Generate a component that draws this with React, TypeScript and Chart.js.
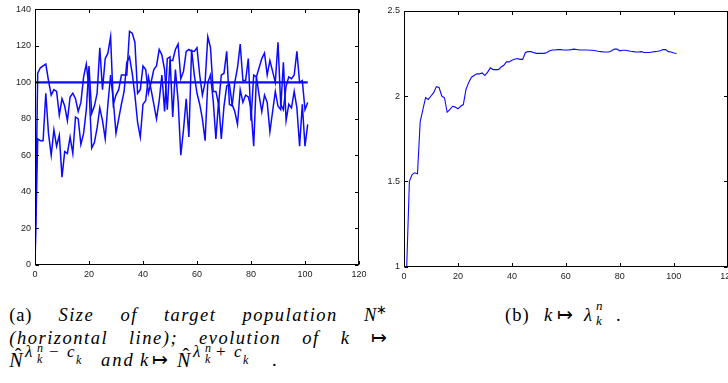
import React, { useEffect, useRef } from "react";
import { Chart, registerables } from "chart.js";

Chart.register(...registerables);

// ---------- data ----------
// left panel: N-hat^(lambda + c) and N-hat^(lambda - c), k = 0..101
const SERIES_PLUS = [
  0, 105, 108, 109, 110, 101, 93, 96, 95, 82,
  91, 87, 79, 92, 94, 91, 84, 89, 103, 110,
  97, 64, 67, 75, 86, 79, 69, 88, 104, 90,
  72, 80, 88, 95, 111, 114, 105, 93, 78, 70,
  88, 90, 103, 96, 88, 80, 90, 104, 84, 113,
  114, 81, 107, 90, 60, 74, 91, 70, 118, 104,
  94, 88, 80, 68, 100, 104, 90, 69, 90, 69,
  87, 98, 99, 88, 84, 77, 96, 89, 93, 92,
  86, 65, 103, 108, 113, 116, 104, 112, 106, 100,
  122, 88, 85, 98, 103, 102, 104, 117, 100, 101,
  85, 89,
];
const SERIES_MINUS = [
  0, 69, 68, 68, 94, 72, 60, 74, 65, 71,
  48, 62, 61, 70, 61, 81, 80, 66, 72, 85,
  109, 83, 87, 94, 119, 96, 113, 116, 125, 88,
  93, 96, 104, 104, 104, 128, 127, 122, 94, 96,
  109, 107, 94, 100, 107, 109, 118, 115, 107, 85,
  112, 112, 118, 121, 102, 106, 117, 118, 117, 117,
  119, 104, 93, 100, 125, 119, 95, 95, 88, 104,
  105, 117, 88, 87, 100, 108, 121, 101, 101, 113,
  79, 104, 103, 93, 84, 93, 89, 73, 84, 95,
  87, 85, 111, 79, 88, 86, 95, 86, 65, 88,
  65, 77,
];
const TARGET_K = [0, 101];
const TARGET_N = [100, 100];

// right panel: lambda_k^n, k = 0..101
const LAMBDA = [
  1.0, 1.0, 1.5, 1.54, 1.55, 1.545, 1.85, 1.92, 1.99, 1.98,
  2.0, 2.02, 2.055, 2.05, 2.0, 1.99, 1.905, 1.92, 1.94, 1.935,
  1.925, 1.94, 1.95, 2.04, 2.08, 2.11, 2.12, 2.13, 2.13, 2.135,
  2.12, 2.14, 2.165, 2.155, 2.155, 2.155, 2.17, 2.18, 2.2, 2.2,
  2.21, 2.215, 2.22, 2.215, 2.215, 2.255, 2.26, 2.26, 2.255, 2.25,
  2.25, 2.25, 2.25, 2.255, 2.265, 2.27, 2.27, 2.272, 2.272, 2.27,
  2.27, 2.27, 2.272, 2.275, 2.273, 2.27, 2.27, 2.27, 2.27, 2.268,
  2.268, 2.265, 2.262, 2.26, 2.258, 2.258, 2.258, 2.265, 2.275, 2.275,
  2.265, 2.268, 2.268, 2.265, 2.262, 2.26, 2.258, 2.258, 2.26, 2.255,
  2.255, 2.255, 2.258, 2.26, 2.262, 2.265, 2.272, 2.272, 2.26, 2.258,
  2.252, 2.25,
];

const X_TICKS = [0, 20, 40, 60, 80, 100, 120];
const Y_TICKS_A = [0, 20, 40, 60, 80, 100, 120, 140];
const Y_TICKS_B = [1, 1.5, 2, 2.5];

// ---------- helpers ----------
const toXY = (arr: number[]) => arr.map((y, k) => ({ x: k, y }));

const boxPlugin = {
  id: "matlabBox",
  afterDraw(chart: any) {
    const { ctx, chartArea: a, scales } = chart;
    const L = Math.round(a.left) + 0.5;
    const R = Math.round(a.right) - 0.5;
    const T = Math.round(a.top) + 0.5;
    const B = Math.round(a.bottom) - 0.5;
    const tl = 3.5;
    ctx.save();
    ctx.strokeStyle = "#000";
    ctx.lineWidth = 1;
    ctx.strokeRect(L, T, R - L, B - T);
    ctx.beginPath();
    for (const t of scales.x.ticks) {
      const px = Math.round(scales.x.getPixelForValue(t.value)) + 0.5;
      ctx.moveTo(px, B);
      ctx.lineTo(px, B - tl);
      ctx.moveTo(px, T);
      ctx.lineTo(px, T + tl);
    }
    for (const t of scales.y.ticks) {
      const py = Math.round(scales.y.getPixelForValue(t.value)) + 0.5;
      ctx.moveTo(L, py);
      ctx.lineTo(L + tl, py);
      ctx.moveTo(R, py);
      ctx.lineTo(R - tl, py);
    }
    ctx.stroke();
    ctx.restore();
  },
};

const tickFont = { family: '"Liberation Sans", Arial, sans-serif', size: 9 };

function makeScales(
  xTicks: number[],
  yTicks: number[],
  yMin: number,
  yMax: number,
  yWidth: number,
  xHeight: number
) {
  return {
    x: {
      type: "linear" as const,
      min: 0,
      max: 120,
      grid: { display: false, drawTicks: false },
      border: { display: false },
      afterBuildTicks: (s: any) => {
        s.ticks = xTicks.map((v) => ({ value: v }));
      },
      afterFit: (s: any) => {
        s.height = xHeight;
      },
      ticks: {
        color: "#222",
        font: tickFont,
        padding: 4,
        maxRotation: 0,
        autoSkip: false,
        callback: (v: any) => String(v),
      },
    },
    y: {
      type: "linear" as const,
      min: yMin,
      max: yMax,
      grid: { display: false, drawTicks: false },
      border: { display: false },
      afterBuildTicks: (s: any) => {
        s.ticks = yTicks.map((v) => ({ value: v }));
      },
      afterFit: (s: any) => {
        s.width = yWidth;
      },
      ticks: {
        color: "#222",
        font: tickFont,
        padding: 4,
        autoSkip: false,
        callback: (v: any) => String(v),
      },
    },
  };
}

const BLUE = "#0a0aff";

function LeftChart() {
  const ref = useRef<HTMLCanvasElement | null>(null);
  useEffect(() => {
    if (!ref.current) return;
    const chart = new Chart(ref.current, {
      type: "line",
      data: {
        datasets: [
          { data: toXY(SERIES_MINUS), borderColor: BLUE, borderWidth: 1.5, pointRadius: 0, tension: 0 },
          { data: toXY(SERIES_PLUS), borderColor: BLUE, borderWidth: 1.5, pointRadius: 0, tension: 0 },
          {
            data: TARGET_K.map((k, i) => ({ x: k, y: TARGET_N[i] })),
            borderColor: BLUE,
            borderWidth: 2.3,
            pointRadius: 0,
            tension: 0,
          },
        ],
      },
      options: {
        animation: false,
        responsive: false,
        devicePixelRatio: 1,
        layout: { padding: { left: 0, right: 21, top: 9.3, bottom: 0 } },
        plugins: { legend: { display: false }, tooltip: { enabled: false } },
        scales: makeScales(X_TICKS, Y_TICKS_A, 0, 140, 35, 25.3),
      },
      plugins: [boxPlugin],
    });
    return () => chart.destroy();
  }, []);
  return (
    <canvas
      ref={ref}
      width={380}
      height={290}
      style={{ position: "absolute", left: 0, top: 0, width: 380, height: 290 }}
    />
  );
}

function RightChart() {
  const ref = useRef<HTMLCanvasElement | null>(null);
  useEffect(() => {
    if (!ref.current) return;
    const chart = new Chart(ref.current, {
      type: "line",
      data: {
        datasets: [
          { data: toXY(LAMBDA), borderColor: BLUE, borderWidth: 1.1, pointRadius: 0, tension: 0 },
        ],
      },
      options: {
        animation: false,
        responsive: false,
        devicePixelRatio: 1,
        layout: { padding: { left: 0, right: 32.3, top: 10.7, bottom: 0 } },
        plugins: { legend: { display: false }, tooltip: { enabled: false } },
        scales: makeScales(X_TICKS, Y_TICKS_B, 1, 2.5, 44, 23.3),
      },
      plugins: [boxPlugin],
    });
    return () => chart.destroy();
  }, []);
  return (
    <canvas
      ref={ref}
      width={400}
      height={290}
      style={{ position: "absolute", left: 360, top: 0, width: 400, height: 290 }}
    />
  );
}

// ---------- caption math bits ----------
const serif = '"Liberation Serif", "Times New Roman", serif';

// a glyph placed so that its baseline sits `base` px below the line top (line-height 22.5px)
const glyph = (left: number, base: number, size: number, italic: boolean, extra: React.CSSProperties = {}): React.CSSProperties => ({
  position: "absolute",
  left,
  top: base - 11.25 - 0.3375 * size,
  fontSize: size,
  lineHeight: "22.5px",
  fontStyle: italic ? "italic" : "normal",
  whiteSpace: "nowrap",
  ...extra,
});

function HatN({ left }: { left: number }) {
  return (
    <span style={glyph(left, 17.3, 20, true)}>
      N
      <span
        style={{
          position: "absolute",
          left: 5.5,
          top: -3.5,
          fontStyle: "normal",
        }}
      >
        ˆ
      </span>
    </span>
  );
}

// lambda_k^n (sign) c_k as a superscript; x positions of each piece
function Exponent({ x, sign }: { x: number[]; sign: string }) {
  return (
    <>
      <span style={glyph(x[0], 8.9, 17, true)}>λ</span>
      <span style={glyph(x[1], 2.6, 12, true)}>n</span>
      <span style={glyph(x[1], 13.9, 12, true)}>k</span>
      <span style={glyph(x[2], 8.9, 17, false)}>{sign}</span>
      <span style={glyph(x[3], 8.9, 17, true)}>c</span>
      <span style={glyph(x[4], 15.4, 12, true)}>k</span>
    </>
  );
}

const lineBase: React.CSSProperties = {
  position: "absolute",
  fontFamily: serif,
  fontSize: 18.5,
  lineHeight: "22.5px",
  color: "#000",
};

const justified: React.CSSProperties = {
  ...lineBase,
  left: 9.3,
  width: 378,
  textAlign: "justify",
  textAlignLast: "justify",
  letterSpacing: 1.5,
};

function Captions() {
  return (
    <>
      <div style={{ ...justified, top: 304.4 }}>
        <span style={{ letterSpacing: 0.8 }}>(a)</span> <i>Size of target population</i>{" "}
        <span style={{ letterSpacing: 0 }}>
          <i>N</i>
          <span style={{ position: "relative", top: -7, fontSize: 13, lineHeight: 1 }}>∗</span>
        </span>
      </div>
      <div style={{ ...justified, top: 327 }}>
        <i>(horizontal line); evolution of</i> <i>k</i> <span style={{ letterSpacing: 0 }}>↦</span>
      </div>
      <div style={{ ...lineBase, left: 0, top: 349.4, width: 400, height: 22.5 }}>
        <HatN left={9.3} />
        <Exponent x={[25, 37, 49, 67, 76]} sign="−" />
        <span style={glyph(101, 17.3, 18.5, true, { letterSpacing: 2 })}>and</span>
        <span style={glyph(140, 17.3, 18.5, true)}>k</span>
        <span style={glyph(152, 17.3, 18.5, false)}>↦</span>
        <HatN left={177} />
        <Exponent x={[193, 205, 216, 234, 243]} sign="+" />
        <span style={glyph(272, 17.3, 18.5, false)}>.</span>
      </div>
      <div style={{ ...lineBase, left: 0, top: 304.4, width: 728, height: 22.5 }}>
        <span style={glyph(505, 17.3, 18.5, false, { letterSpacing: 1 })}>(b)</span>
        <span style={glyph(544, 17.3, 18.5, true)}>k</span>
        <span style={glyph(557, 17.3, 18.5, false)}>↦</span>
        <span style={glyph(584, 17.3, 18.5, true)}>λ</span>
        <span style={glyph(596, 6.6, 13, true)}>n</span>
        <span style={glyph(596, 21.3, 13, true)}>k</span>
        <span style={glyph(616, 17.3, 18.5, false)}>.</span>
      </div>
    </>
  );
}

export default function App() {
  return (
    <div
      style={{
        position: "fixed",
        left: 0,
        top: 0,
        width: 728,
        height: 383,
        overflow: "hidden",
        background: "#fff",
      }}
    >
      <LeftChart />
      <RightChart />
      <Captions />
    </div>
  );
}
